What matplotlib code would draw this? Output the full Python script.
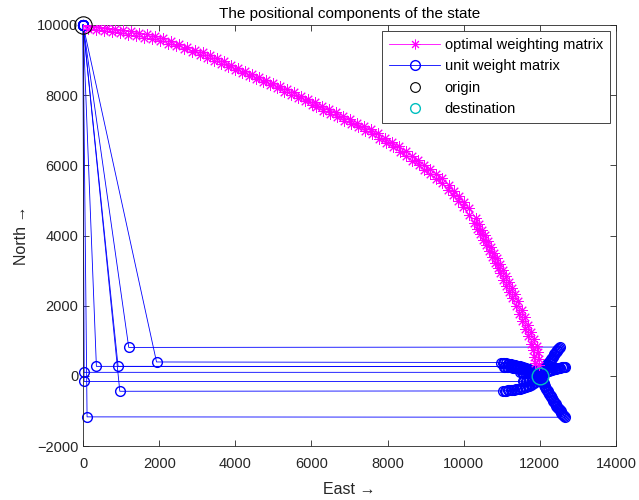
import matplotlib
matplotlib.use("Agg")
import matplotlib.pyplot as plt

plt.rcParams['font.family'] = ['Liberation Sans', 'DejaVu Sans']

# optimal weighting matrix, two nearly coincident runs (East, North)
opt_east = [0, 202, 412, 623, 833, 1043, 1253, 1463, 1673, 1884, 2094, 2304, 2514, 2724,
            2934, 3145, 3328, 3512, 3696, 3880, 4064, 4248, 4432, 4616, 4800, 4983, 5167,
            5351, 5535, 5719, 5903, 6087, 6271, 6455, 6638, 6822, 7006, 7190, 7374, 7558,
            7742, 7926, 8110, 8293, 8477, 8635, 8793, 8950, 9108, 9265, 9423, 9607, 9738,
            9869, 10001, 10132, 10316, 10395, 10474, 10553, 10631, 10710, 10789, 10868,
            10946, 11025, 11104, 11183, 11262, 11340, 11419, 11524, 11603, 11682, 11761,
            11840, 11918, 11945, 11971, 11985]
opt_north = [10000, 9972, 9944, 9915, 9887, 9858, 9816, 9773, 9730, 9688, 9617, 9546, 9461,
             9375, 9290, 9219, 9134, 9049, 8963, 8864, 8779, 8693, 8608, 8523, 8438, 8353,
             8253, 8168, 8083, 7983, 7884, 7799, 7699, 7600, 7514, 7415, 7316, 7216, 7131,
             7031, 6918, 6790, 6662, 6549, 6406, 6279, 6151, 6023, 5895, 5767, 5639, 5441,
             5270, 5114, 4958, 4787, 4503, 4333, 4162, 4006, 3850, 3679, 3509, 3352, 3196,
             3026, 2855, 2671, 2500, 2330, 2145, 1889, 1676, 1463, 1250, 1037, 838, 668,
             469, 300]
opt2_east = [121, 327, 537, 748, 958, 1168, 1378, 1588, 1798, 2009, 2219, 2429, 2639, 2849,
             3060, 3256, 3440, 3624, 3808, 3992, 4176, 4360, 4544, 4728, 4912, 5095, 5279,
             5463, 5647, 5831, 6015, 6119, 6303, 6487, 6670, 6854, 7038, 7222, 7406, 7590,
             7774, 7958, 8142, 8325, 8496, 8654, 8812, 8969, 9127, 9284, 9425, 9583, 9714,
             9845, 9977, 10134, 10266, 10345, 10424, 10502, 10581, 10660, 10739, 10817,
             10896, 10960, 11039, 11118, 11196, 11275, 11367, 11459, 11538, 11617, 11696,
             11774, 11827, 11853, 11873]
opt2_north = [9876, 9848, 9820, 9791, 9762, 9727, 9685, 9642, 9599, 9542, 9472, 9394, 9308,
              9223, 9145, 9067, 8982, 8896, 8804, 8712, 8626, 8541, 8456, 8371, 8286, 8193,
              8101, 8016, 7923, 7824, 7732, 7659, 7560, 7467, 7375, 7276, 7176, 7084, 6991,
              6885, 6764, 6636, 6516, 6388, 6253, 6125, 5997, 5869, 5741, 5613, 5490, 5306,
              5142, 4986, 4823, 4595, 4368, 4198, 4034, 3878, 3715, 3544, 3381, 3224, 3061,
              2921, 2743, 2566, 2395, 2218, 1997, 1763, 1550, 1337, 1124, 918, 733, 549, 365]

# unit weight matrix runs: origin -> first fix -> far point -> converge to destination
unit_east = [
    [0, 1200, 12520, 12500, 12480, 12460, 12440, 12420, 12400, 12380, 12360, 12340, 12320,
     12300, 12280, 12260, 12240, 12220, 12200, 12180, 12160, 12140, 12120, 12100, 12080,
     12060, 12040, 12020, 12000],
    [0, 1930, 10990, 11030, 11070, 11110, 11150, 11190, 11230, 11270, 11310, 11350, 11390,
     11430, 11470, 11510, 11550, 11590, 11630, 11670, 11710, 11750, 11790, 11830, 11870,
     11910, 11950, 11990],
    [0, 350, 11050, 11090, 11130, 11170, 11210, 11250, 11290, 11330, 11370, 11410, 11450,
     11490, 11530, 11570, 11610, 11650, 11690, 11730, 11770, 11810, 11850, 11890, 11930,
     11970],
    [0, 920, 12660, 12630, 12600, 12570, 12540, 12510, 12480, 12450, 12420, 12390, 12360,
     12330, 12300, 12270, 12240, 12210, 12180, 12150, 12120, 12090, 12060, 12030, 12000],
    [0, 20, 11480, 11520, 11560, 11600, 11640, 11680, 11720, 11760, 11800, 11840, 11880,
     11920, 11960, 12000],
    [0, 25, 11550, 11590, 11630, 11670, 11710, 11750, 11790, 11830, 11870, 11910, 11950,
     11990],
    [0, 965, 11040, 11080, 11120, 11160, 11200, 11240, 11280, 11320, 11360, 11400, 11440,
     11480, 11520, 11560, 11600, 11640, 11680, 11720, 11760, 11800, 11840, 11880, 11920,
     11960, 12000],
    [0, 105, 12660, 12637, 12614, 12591, 12568, 12545, 12522, 12499, 12476, 12453, 12431,
     12412, 12393, 12375, 12356, 12337, 12318, 12299, 12280, 12261, 12242, 12223, 12203,
     12183, 12165, 12148, 12132, 12115, 12098, 12082, 12065, 12048, 12032, 12016, 12000],
]
unit_north = [
    [10000, 810, 820, 790, 760, 730, 700, 670, 640, 610, 580, 550, 520, 490, 460, 430, 400,
     370, 340, 310, 280, 250, 220, 190, 160, 130, 100, 70, 40],
    [10000, 395, 380, 372, 364, 356, 348, 340, 332, 322, 312, 302, 292, 282, 270, 258, 246,
     232, 218, 202, 186, 168, 150, 130, 108, 85, 60, 35],
    [10000, 270, 265, 260, 255, 250, 245, 240, 234, 228, 222, 216, 208, 200, 192, 182, 172,
     160, 148, 134, 118, 102, 84, 64, 44, 22],
    [10000, 270, 265, 258, 251, 244, 237, 230, 222, 214, 206, 198, 189, 180, 170, 160, 149,
     138, 126, 113, 99, 84, 67, 48, 25],
    [10000, 100, 100, 97, 94, 90, 86, 82, 77, 72, 66, 58, 48, 36, 22, 8],
    [10000, -160, -160, -154, -147, -140, -132, -123, -113, -101, -87, -70, -50, -25],
    [10000, -440, -430, -426, -422, -418, -413, -408, -402, -396, -389, -382, -374, -365,
     -355, -344, -332, -318, -302, -284, -264, -240, -212, -180, -140, -95, -40],
    [10000, -1170, -1180, -1147, -1114, -1081, -1048, -1015, -982, -949, -916, -883, -850,
     -816, -782, -748, -714, -680, -645, -610, -575, -540, -505, -470, -434, -398, -362,
     -326, -290, -254, -218, -181, -144, -107, -70, -35, 0],
]

origin = (0, 10000)
destination = (12000, 0)

fig = plt.figure(figsize=(6.39, 5.0), dpi=100)
ax = fig.add_axes([0.130, 0.108, 0.834, 0.842])

star = (8, 2, 0)
ax.plot(opt_east, opt_north, color=(1, 0, 1), linewidth=0.6, marker=star,
        markersize=7.5, markeredgewidth=0.7, label='optimal weighting matrix', zorder=3)
ax.plot(opt2_east, opt2_north, color=(1, 0, 1), linewidth=0.6, marker=star,
        markersize=7.5, markeredgewidth=0.7, zorder=3)
for i in range(len(unit_east)):
    ax.plot(unit_east[i], unit_north[i], color='b', linewidth=0.6, marker='o',
            markersize=7, markerfacecolor='none', markeredgewidth=1.0,
            label='unit weight matrix' if i == 0 else None, zorder=2, clip_on=False)
ax.plot(origin[0], origin[1], 'o', color='k', markerfacecolor='none', markersize=12.5,
        markeredgewidth=0.8, label='origin', zorder=4, clip_on=False)
ax.plot(destination[0], destination[1], 'o', color='c', markerfacecolor='none',
        markersize=12, markeredgewidth=1.0, label='destination', zorder=4)

ax.set_xlim(0, 14000)
ax.set_ylim(-2000, 10000)
ax.set_xticks(range(0, 14001, 2000))
ax.set_yticks(range(-2000, 10001, 2000))
ax.tick_params(direction='in', top=True, right=True, labelsize=10.5, colors='#262626',
               length=4, width=0.6)
ax.tick_params(axis='x', pad=8)
for s in ax.spines.values():
    s.set_color('#262626')
    s.set_linewidth(0.6)

ax.set_title('The positional components of the state', fontsize=11, color='k', pad=5)
ax.set_xlabel('East →', fontsize=11.5, color='#262626', labelpad=8)
ax.set_ylabel('North →', fontsize=11.5, color='#262626', labelpad=6)

leg = ax.legend(loc='upper right', fontsize=10.5, handlelength=3.5, handletextpad=0.3,
                fancybox=False, edgecolor='#262626', framealpha=1, borderpad=0.5,
                labelspacing=0.5, borderaxespad=0.4)
leg.get_frame().set_linewidth(0.6)
for h in leg.legend_handles:
    h.set_markersize(7)

fig.savefig('out.png', dpi=100)
